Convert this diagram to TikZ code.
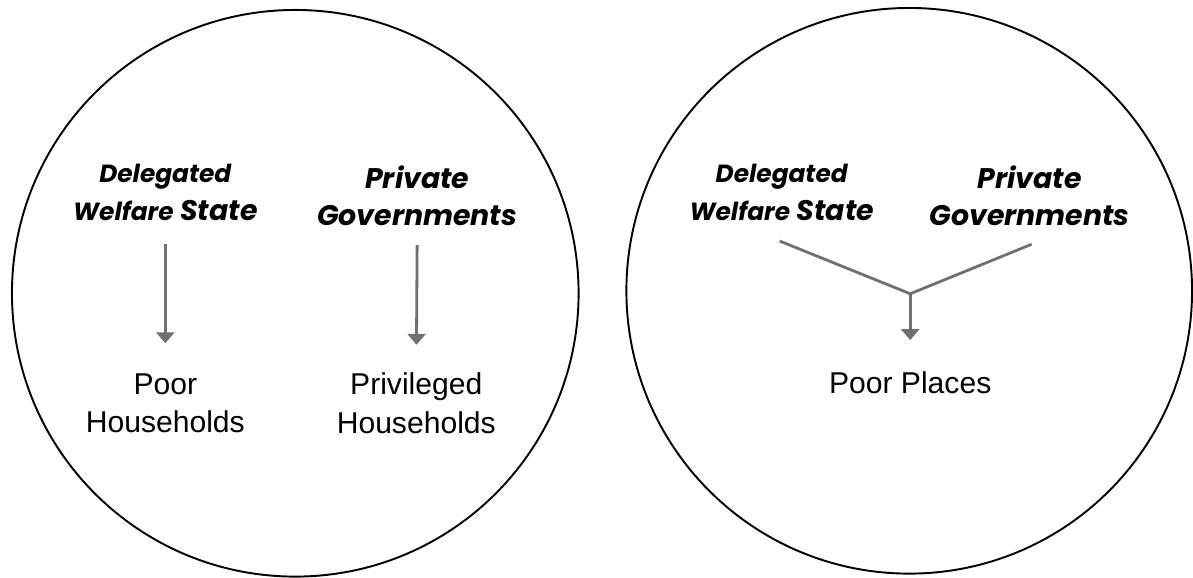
\documentclass[tikz,border=0pt]{standalone}
\usepackage{fontspec}
\setmainfont{Liberation Sans}
\newfontfamily\headfont{Poppins}
\usetikzlibrary{arrows.meta}

\definecolor{linkgray}{HTML}{707070}

\begin{document}
\begin{tikzpicture}[
    circ/.style={draw=black, line width=1.1pt},
    head/.style={align=center, inner sep=0pt, font=\headfont\bfseries\itshape\fontsize{16.2}{21.5}\selectfont},
    lbl/.style={align=center, inner sep=0pt, font=\fontsize{17.2}{22}\selectfont},
    flow/.style={draw=linkgray, line width=1.6pt, -{Triangle[width=0.36cm, length=0.22cm]}},
    merge/.style={draw=linkgray, line width=1.6pt}
]
    \newcommand{\smallhead}[1]{{\fontsize{14.2}{21.5}\selectfont #1}}

    % --- Left circle: two separate channels ---
    \draw[circ] (5.93, 5.65) circle (5.69);

    \node[head] (dws1) at (3.32, 7.67) {\smallhead{Delegated}\\\smallhead{Welfare} State};
    \node[head] (pg1) at (8.38, 7.61) {Private\\Governments};
    \node[lbl] (hh1) at (3.32, 3.44) {Poor\\Households};
    \node[lbl] (hh2) at (8.36, 3.44) {Privileged\\Households};

    \draw[flow, shorten <=0.46cm, shorten >=0.6cm] (dws1.south) -- (hh1.north);
    \draw[flow, shorten <=0.38cm, shorten >=0.56cm] (pg1.south) -- (hh2.north);

    % --- Right circle: both converge on places ---
    \draw[circ] (18.26, 5.70) circle (5.68);

    \node[head] (dws2) at (15.70, 7.67) {\smallhead{Delegated}\\\smallhead{Welfare} State};
    \node[head] (pg2) at (20.68, 7.61) {Private\\Governments};
    \node[lbl] (pp) at (18.28, 3.86) {Poor Places};
    \coordinate (mid) at (18.28, 5.64);

    \draw[merge] ([xshift=-0.04cm, yshift=-0.4cm]dws2.south) -- (mid);
    \draw[merge] ([xshift=0.04cm, yshift=-0.36cm]pg2.south) -- (mid);
    \draw[flow, shorten >=0.62cm] (mid) -- (pp.north);

    \useasboundingbox (0, 0) rectangle (23.86, 11.54);
\end{tikzpicture}
\end{document}
